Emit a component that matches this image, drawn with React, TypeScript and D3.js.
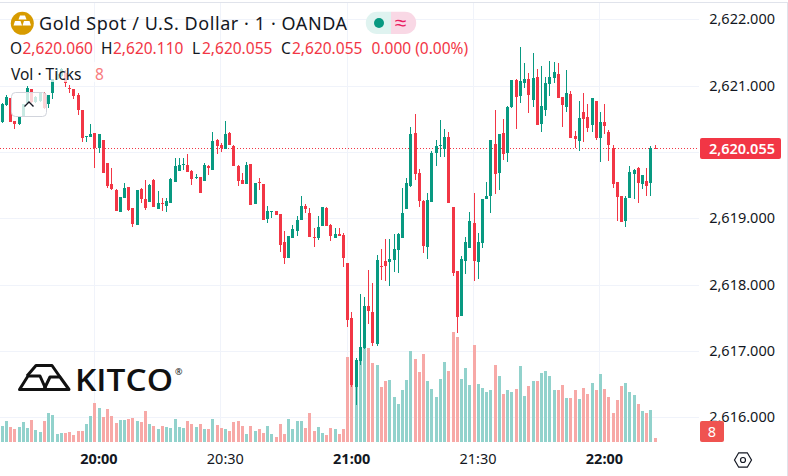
import React from "react";
import * as d3 from "d3";

const W = 788, H = 476;
const FONT = "'Noto Sans', sans-serif";
const UP = "#089981", DOWN = "#f23645";
const VOL_UP = "#92d2cc", VOL_DOWN = "#f7a9a7";
const GRID = "#f0f3fa";

const opens = [2620.456,2620.702,2620.817,2620.466,2620.421,2620.531,2620.732,2620.944,2620.758,2620.768,2620.893,2620.722,2620.883,2621.094,2621.145,2621.185,2620.969,2620.944,2620.858,2620.632,2620.219,2620.229,2620.280,2620.064,2620.179,2619.827,2619.511,2619.425,2619.098,2619.309,2619.470,2619.148,2618.902,2619.440,2619.284,2619.249,2619.576,2619.138,2619.229,2619.184,2619.234,2619.551,2619.717,2619.802,2619.802,2619.717,2619.606,2619.621,2619.566,2619.787,2619.727,2620.179,2620.104,2620.049,2620.285,2620.089,2619.787,2619.576,2619.516,2619.817,2619.214,2619.546,2619.516,2618.988,2619.098,2619.108,2619.063,2618.641,2618.400,2618.701,2618.807,2618.973,2619.184,2619.078,2618.716,2618.701,2618.882,2619.154,2618.897,2618.701,2618.761,2618.746,2618.324,2617.494,2616.454,2616.846,2617.037,2617.676,2617.585,2617.103,2618.279,2618.355,2618.339,2618.370,2618.520,2618.701,2619.139,2619.486,2620.285,2619.682,2619.259,2618.566,2619.244,2619.984,2620.094,2620.044,2620.225,2619.169,2618.204,2617.525,2618.355,2618.551,2618.928,2618.339,2618.626,2619.290,2619.335,2620.124,2619.687,2620.290,2619.989,2620.683,2621.090,2620.848,2621.045,2621.105,2620.788,2621.135,2620.426,2620.637,2621.029,2621.120,2621.180,2620.833,2620.683,2620.879,2620.245,2620.170,2620.607,2620.532,2620.411,2620.773,2620.215,2620.456,2620.305,2620.064,2619.551,2619.340,2618.963,2619.310,2619.672,2619.762,2619.521,2619.566,2619.536,2620.060];
const highs = [2620.737,2620.858,2620.817,2620.466,2620.541,2620.722,2620.994,2620.954,2620.843,2620.903,2620.908,2620.858,2621.094,2621.260,2621.260,2621.235,2621.009,2620.954,2620.883,2620.632,2620.240,2620.421,2620.290,2620.265,2620.179,2619.837,2619.762,2619.435,2619.325,2619.536,2619.475,2619.158,2619.425,2619.450,2619.576,2619.511,2619.586,2619.410,2619.299,2619.299,2619.601,2619.903,2619.903,2619.903,2619.968,2619.727,2619.667,2619.626,2619.828,2619.797,2620.295,2620.190,2620.139,2620.466,2620.300,2620.109,2619.802,2619.687,2619.848,2619.817,2619.531,2619.606,2619.516,2619.184,2619.108,2619.108,2619.063,2618.807,2618.731,2618.897,2619.033,2619.335,2619.214,2619.154,2618.852,2619.033,2619.169,2619.169,2618.912,2618.852,2618.852,2618.777,2618.324,2617.585,2616.891,2617.857,2617.811,2618.219,2618.023,2618.445,2618.535,2618.686,2618.686,2618.762,2618.777,2619.456,2619.606,2620.376,2620.572,2619.742,2619.275,2619.380,2620.014,2620.180,2620.481,2620.346,2620.300,2619.169,2618.204,2618.430,2618.716,2619.094,2619.380,2618.777,2619.290,2619.546,2620.180,2620.637,2620.275,2620.501,2620.698,2621.090,2621.105,2621.588,2621.346,2621.195,2621.497,2621.256,2621.301,2621.135,2621.376,2621.361,2621.346,2620.833,2621.241,2620.924,2620.321,2620.773,2620.894,2620.728,2620.818,2620.773,2620.607,2620.728,2620.336,2620.109,2619.551,2619.340,2619.340,2619.793,2619.747,2619.777,2619.657,2619.762,2620.094,2620.110];
const lows = [2620.441,2620.692,2620.456,2620.350,2620.401,2620.521,2620.722,2620.742,2620.742,2620.758,2620.642,2620.662,2620.803,2621.084,2621.125,2620.974,2620.883,2620.803,2620.556,2620.154,2620.154,2620.219,2619.762,2619.988,2619.676,2619.450,2619.425,2619.108,2619.093,2619.304,2619.113,2618.872,2618.897,2619.224,2619.123,2619.244,2619.174,2619.133,2619.113,2619.098,2619.229,2619.546,2619.712,2619.727,2619.697,2619.501,2619.586,2619.375,2619.561,2619.651,2619.722,2619.968,2620.004,2620.044,2620.099,2619.787,2619.486,2619.516,2619.516,2619.199,2619.214,2619.425,2618.973,2618.928,2619.003,2619.048,2618.490,2618.309,2618.400,2618.701,2618.731,2618.973,2619.078,2618.716,2618.565,2618.671,2618.882,2618.882,2618.656,2618.701,2618.731,2618.264,2617.359,2616.454,2616.183,2616.786,2617.020,2617.404,2617.072,2617.072,2618.068,2618.053,2617.977,2618.189,2618.174,2618.701,2619.139,2619.471,2619.576,2619.169,2618.475,2618.385,2619.244,2619.787,2619.923,2619.923,2619.229,2618.128,2617.268,2617.525,2618.158,2618.551,2618.053,2618.083,2618.551,2619.290,2619.078,2619.370,2619.431,2619.883,2619.853,2620.667,2620.351,2620.743,2620.969,2620.592,2620.683,2620.411,2620.305,2620.547,2620.848,2621.045,2620.818,2620.381,2620.607,2620.215,2620.064,2620.019,2620.155,2620.305,2620.305,2620.185,2619.853,2620.275,2619.868,2619.461,2618.963,2618.948,2618.872,2619.310,2619.295,2619.234,2619.446,2619.340,2619.340,2620.055];
const closes = [2620.722,2620.833,2620.456,2620.421,2620.531,2620.722,2620.959,2620.758,2620.833,2620.903,2620.657,2620.858,2621.094,2621.175,2621.250,2621.034,2620.944,2620.843,2620.632,2620.214,2620.235,2620.265,2620.054,2620.265,2619.676,2619.485,2619.435,2619.113,2619.325,2619.460,2619.123,2618.912,2619.425,2619.284,2619.148,2619.501,2619.174,2619.234,2619.219,2619.259,2619.591,2619.787,2619.802,2619.817,2619.702,2619.591,2619.621,2619.385,2619.802,2619.762,2620.164,2620.089,2620.054,2620.270,2620.104,2619.787,2619.566,2619.516,2619.802,2619.199,2619.531,2619.536,2618.973,2619.108,2619.108,2619.048,2618.596,2618.400,2618.731,2618.837,2618.973,2619.184,2619.139,2618.716,2618.706,2618.867,2619.169,2618.882,2618.731,2618.761,2618.731,2618.400,2617.464,2616.484,2616.861,2617.057,2617.676,2617.600,2617.118,2618.370,2618.269,2618.279,2618.385,2618.535,2618.762,2619.078,2619.531,2620.270,2619.667,2619.259,2618.581,2619.275,2619.984,2620.089,2620.104,2620.225,2619.229,2618.173,2617.510,2618.385,2618.641,2618.958,2618.355,2618.641,2619.290,2619.335,2620.180,2619.672,2620.275,2619.974,2620.683,2621.090,2620.833,2621.075,2621.105,2620.864,2621.120,2620.411,2620.698,2621.045,2621.135,2621.210,2620.818,2620.713,2620.894,2620.215,2620.200,2620.517,2620.502,2620.366,2620.818,2620.215,2620.456,2620.396,2620.109,2619.521,2619.325,2618.948,2619.310,2619.702,2619.732,2619.536,2619.657,2619.491,2620.064,2620.055];
const volumes = [32,42,30,26,30,40,28,44,24,20,42,58,54,16,18,18,20,14,22,22,36,52,78,68,50,66,52,38,44,44,46,48,42,40,62,36,32,26,32,30,28,46,30,28,42,36,30,36,26,26,46,34,28,26,22,40,42,32,16,32,22,26,18,32,16,10,36,16,46,26,42,42,28,58,22,30,18,14,28,26,16,26,170,177,137,184,188,188,158,154,110,122,124,90,76,104,124,182,166,140,176,122,106,90,126,160,142,220,210,126,148,114,194,116,108,100,104,154,132,96,104,100,106,152,92,112,122,122,138,142,132,104,104,114,88,88,104,86,108,96,118,104,136,106,90,58,84,112,118,100,94,76,62,58,64,8];

const priceTicks = [2622, 2621, 2620, 2619, 2618, 2617, 2616];
const hiddenTickLabel = 2620;
const timeTicks = [
  { bar: 22, label: "20:00", major: true },
  { bar: 52, label: "20:30", major: false },
  { bar: 82, label: "21:00", major: true },
  { bar: 112, label: "21:30", major: false },
  { bar: 142, label: "22:00", major: true },
];
const lastPrice = 2620.055;
const lastVolume = 8;

const x = d3.scaleLinear().domain([0, 155]).range([2.3, 655.2]);
const y = d3.scaleLinear().domain([2622, 2616]).range([19.3, 417.1]);
const v = d3.scaleLinear().domain([0, 220]).range([442, 332]);
const fmt = d3.format(",.3f");
const left = (i: number) => Math.round(x(i) - 1.5);

export default function App() {
  return (
    <svg width={W} height={H} viewBox={`0 0 ${W} ${H}`}
      style={{ position: "absolute", left: 0, top: 0, background: "#fff", fontFamily: FONT }}>
      <rect width={W} height={H} fill="#fff" />
      <line x1={0} x2={W} y1={2.5} y2={2.5} stroke="#e0e3eb" />
      <line x1={787.5} x2={787.5} y1={2} y2={H} stroke="#e0e3eb" />
      {priceTicks.map((p) => (
        <line key={p} x1={0} x2={699} y1={Math.round(y(p)) + 0.5} y2={Math.round(y(p)) + 0.5} stroke={GRID} />
      ))}
      {timeTicks.map((t) => (
        <line key={t.label} x1={Math.round(x(t.bar)) - 0.5} x2={Math.round(x(t.bar)) - 0.5} y1={3} y2={442} stroke={GRID} />
      ))}

      {volumes.map((d, i) => (
        <rect key={i} x={left(i)} width={3} y={Math.round(v(d))} height={442 - Math.round(v(d))}
          fill={closes[i] >= opens[i] ? VOL_UP : VOL_DOWN} />
      ))}

      <line x1={0} x2={699} y1={Math.round(y(lastPrice)) + 0.5} y2={Math.round(y(lastPrice)) + 0.5} stroke={DOWN} strokeDasharray="1 2" />

      {opens.map((o, i) => {
        const c = closes[i];
        const col = c >= o ? UP : DOWN;
        const top = Math.round(y(Math.max(o, c)));
        const bot = Math.round(y(Math.min(o, c)));
        const wt = Math.round(y(highs[i]));
        const wb = Math.round(y(lows[i]));
        return (
          <g key={i}>
            <rect x={left(i) + 1} width={1} y={wt} height={Math.max(1, wb - wt)} fill={col} />
            <rect x={left(i)} width={3} y={top} height={Math.max(1, bot - top)} fill={col} />
          </g>
        );
      })}

      {/* legend veil */}
      <rect x={8} y={62} width={96} height={20} fill="#fff" opacity={0.72} />
      <rect x={11.5} y={92.5} width={35} height={24} rx={4} fill="#fff" fillOpacity={0.78} stroke="#d1d4dc" />
      <path d="M24.5 106.5 L29 102 L33.5 106.5" fill="none" stroke="#131722" strokeWidth={1.4} />

      {/* title */}
      <circle cx={22.3} cy={23.3} r={11.5} fill="#d79b00" />
      <path d="M20 15.5h5l1.5 4h-8zM15 21h5.5l1.5 4.5h-8.5zM24 21h5.5l1.5 4.5h-8.5z" fill="#fff" />
      <text x={39} y={30} fontSize={18} fill="#131722" textLength={308}>Gold Spot / U.S. Dollar · 1 · OANDA</text>
      <path d="M391 11.7h-14a11.2 11.2 0 0 0 0 22.4h14z" fill="#dff3f0" />
      <path d="M391 11.7h14a11.2 11.2 0 0 1 0 22.4h-14z" fill="#f9d8e5" />
      <circle cx={379} cy={23} r={5} fill={UP} />
      <text x={400.5} y={30} fontSize={21} fill="#e91e63" textAnchor="middle">≈</text>

      <g fontSize={15.5}>
        {[
          { x: 10, l: "O", val: "2,620.060", vx: 22.5 },
          { x: 101, l: "H", val: "2,620.110", vx: 113 },
          { x: 192, l: "L", val: "2,620.055", vx: 202 },
          { x: 281, l: "C", val: "2,620.055", vx: 292 },
        ].map((r) => (
          <g key={r.l}>
            <text x={r.x} y={54} fill="#131722">{r.l}</text>
            <text x={r.vx} y={54} fill={DOWN}>{r.val}</text>
          </g>
        ))}
        <text x={371.5} y={54} fill={DOWN}>0.000 (0.00%)</text>
        <text x={11} y={80} fill="#131722">Vol · Ticks</text>
        <text x={95} y={80} fill="#f77c80">8</text>
      </g>

      {/* Kitco */}
      <g fill="none" stroke="#111" strokeWidth={3} strokeLinejoin="round">
        <path d="M27 376 L36 365.5 L52 365.5 L60 377" />
        <path d="M19.5 389.5 L28 376 L40 376 L46 389.5 Z" />
        <path d="M44 389.5 L50 377 L60 377 L69 389.5 Z" />
      </g>
      <text x={75} y={391} fontFamily="'Open Sans', sans-serif" fontWeight={600} fontSize={31} fill="#111" textLength={98} lengthAdjust="spacingAndGlyphs">KITCO</text>
      <text x={175} y={375} fontSize={9} fill="#111">®</text>

      {/* axes */}
      <g fontSize={14.5} fill="#131722">
        {priceTicks.filter((p) => p !== hiddenTickLabel).map((p) => (
          <text key={p} x={775} y={y(p) + 5} textAnchor="end">{fmt(p)}</text>
        ))}
        {timeTicks.map((t) => (
          <text key={t.label} x={x(t.bar) + 4} y={464} textAnchor="middle" fontWeight={t.major ? 700 : 400}>{t.label}</text>
        ))}
      </g>
      <rect x={700} y={138} width={81} height={21} rx={2} fill={DOWN} />
      <text x={775} y={154} fontSize={14.5} fontWeight={600} fill="#fff" textAnchor="end">{fmt(lastPrice)}</text>
      <rect x={700} y={421} width={24} height={21} rx={2} fill="#ef5350" />
      <text x={712} y={437} fontSize={14.5} fill="#fff" textAnchor="middle">{lastVolume}</text>

      <path d="M734.5 460 L738.7 452.8 L747.3 452.8 L751.5 460 L747.3 467.2 L738.7 467.2 Z" fill="none" stroke="#131722" strokeWidth={1.2} />
      <circle cx={743} cy={460} r={2.5} fill="none" stroke="#131722" strokeWidth={1.2} />
    </svg>
  );
}
